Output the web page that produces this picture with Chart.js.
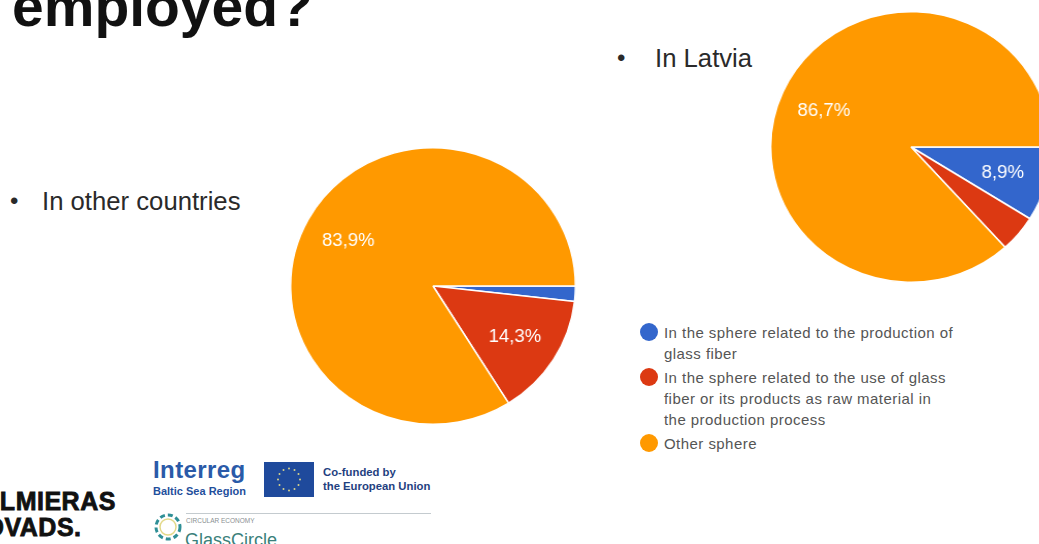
<!DOCTYPE html>
<html>
<head>
<meta charset="utf-8">
<title>employed?</title>
<script src="https://cdn.jsdelivr.net/npm/chart.js@4/dist/chart.umd.min.js"></script>
<style>
    html, body { margin: 0; padding: 0; background: #fff; }
    #slide { position: relative; width: 1039px; height: 544px; overflow: hidden; font-family: "Liberation Sans", sans-serif; }
    #slide > * { position: absolute; }
    .titulo { left: 12px; top: -27px; font-size: 57px; font-weight: bold; color: #111; line-height: 66px; white-space: nowrap; }
    .bullet { font-size: 25.7px; color: #2a2a2a; line-height: 30px; white-space: nowrap; }
    .ponto { font-size: 24px; color: #2a2a2a; line-height: 30px; }
    .pizza { transform: scaleX(1.03); }
    #legenda { left: 640px; top: 322px; width: 316px; font-size: 15px; letter-spacing: .45px; line-height: 21px; color: #555; }
    .item { position: relative; padding-left: 24px; margin-bottom: 3px; }
    .item i { position: absolute; left: 0; top: 1px; width: 18px; height: 18px; border-radius: 50%; }
    .valmieras { left: -34px; top: 488px; font-size: 25px; line-height: 26px; font-weight: 900; color: #111; letter-spacing: .5px; -webkit-text-stroke: .8px #111; }
    .interreg { left: 153px; top: 457px; font-size: 24px; line-height: 26px; font-weight: bold; color: #2a5aa8; letter-spacing: .4px; }
    .baltic { left: 153px; top: 484px; font-size: 11px; line-height: 14px; font-weight: bold; color: #1f4f9c; white-space: nowrap; }
    .cofunded { left: 323px; top: 465px; font-size: 11.3px; line-height: 14px; font-weight: bold; color: #1f3f7f; white-space: nowrap; }
    .divisor { left: 186px; top: 513px; width: 245px; height: 1px; background: #c4cbcf; }
    .economy { left: 186px; top: 517px; font-size: 6.5px; color: #8a8f92; white-space: nowrap; }
    .glass { left: 185px; top: 528px; font-size: 18px; line-height: 24px; color: #3a7f7a; white-space: nowrap; }
</style>
</head>
<body>
<div id="slide">
    <div class="titulo">employed?</div>
    <div class="ponto" style="left:10px; top:186px;">•</div>
    <div class="bullet" style="left:42px; top:186px;">In other countries</div>
    <div class="ponto" style="left:617px; top:43px;">•</div>
    <div class="bullet" style="left:655px; top:43px;">In Latvia</div>

    <canvas id="graficoOutros" class="pizza" width="278" height="278" style="left:294px; top:147px;"></canvas>
    <canvas id="graficoLetonia" class="pizza" width="272" height="272" style="left:775px; top:11px; transform:scaleX(1.037);"></canvas>

    <div id="legenda"></div>

    <div class="valmieras">VALMIERAS<br>NOVADS.</div>

    <div class="interreg">Interreg</div>
    <div class="baltic">Baltic Sea Region</div>
    <svg style="left:264px; top:462px;" width="50" height="35" viewBox="0 0 50 35">
        <rect width="50" height="35" fill="#1f4a9c"/>
        <g id="estrelas" fill="#d8d48a"></g>
    </svg>
    <div class="cofunded">Co-funded by<br>the European Union</div>

    <svg style="left:153px; top:511px;" width="30" height="33" viewBox="0 0 30 33">
        <circle cx="15" cy="16" r="12" fill="none" stroke="#2f8f96" stroke-width="3" stroke-dasharray="5 3"/>
        <circle cx="15" cy="16" r="8" fill="none" stroke="#e3d98a" stroke-width="1.5"/>
    </svg>
    <div class="divisor"></div>
    <div class="economy">CIRCULAR ECONOMY</div>
    <div class="glass">GlassCircle</div>
</div>

<script>
const categorias = [
    'In the sphere related to the production of glass fiber',
    'In the sphere related to the use of glass fiber or its products as raw material in the production process',
    'Other sphere'
];
const valoresOutros = [1.8, 14.3, 83.9];
const valoresLetonia = [8.9, 4.4, 86.7];
const rotulosOutros = [null, '14,3%', '83,9%'];
const rotulosLetonia = ['8,9%', null, '86,7%'];
const cores = ['#3366cc', '#dc3912', '#ff9900'];

// Rótulos de porcentagem dentro das fatias
const pluginRotulos = {
    id: 'rotulosFatia',
    afterDatasetsDraw(chart, args, opts) {
        const ctx = chart.ctx;
        const arcos = chart.getDatasetMeta(0).data;
        ctx.save();
        ctx.font = '18px "Liberation Sans", sans-serif';
        ctx.fillStyle = '#fff';
        ctx.textAlign = 'center';
        ctx.textBaseline = 'middle';
        arcos.forEach(function (arco, i) {
            if (!opts.textos[i]) { return; }
            const p = arco.getProps(['x', 'y', 'startAngle', 'endAngle', 'outerRadius']);
            const meio = (p.startAngle + p.endAngle) / 2;
            const raio = p.outerRadius * 0.68;
            ctx.fillText(opts.textos[i], p.x + Math.cos(meio) * raio, p.y + Math.sin(meio) * raio + 1);
        });
        ctx.restore();
    }
};

function criarPizza(id, valores, textos) {
    new Chart(document.getElementById(id).getContext('2d'), {
        type: 'pie',
        data: {
            labels: categorias,
            datasets: [{
                data: valores,
                backgroundColor: cores,
                borderColor: '#fff',
                borderWidth: 1.5,
                hoverOffset: 0
            }]
        },
        options: {
            responsive: false,
            animation: false,
            rotation: 90,
            layout: { padding: 0 },
            plugins: {
                legend: { display: false },
                tooltip: { enabled: false },
                rotulosFatia: { textos: textos }
            }
        },
        plugins: [pluginRotulos]
    });
}

criarPizza('graficoOutros', valoresOutros, rotulosOutros);
criarPizza('graficoLetonia', valoresLetonia, rotulosLetonia);

// Legenda compartilhada pelos dois gráficos
const legenda = document.getElementById('legenda');
categorias.forEach(function (nome, i) {
    const item = document.createElement('div');
    item.className = 'item';
    const bolinha = document.createElement('i');
    bolinha.style.background = cores[i];
    item.appendChild(bolinha);
    item.appendChild(document.createTextNode(nome));
    legenda.appendChild(item);
});

// Estrelas da bandeira
const estrelas = document.getElementById('estrelas');
for (let i = 0; i < 12; i++) {
    const a = i * Math.PI / 6;
    const c = document.createElementNS('http://www.w3.org/2000/svg', 'circle');
    c.setAttribute('cx', 25 + Math.cos(a) * 11);
    c.setAttribute('cy', 17.5 + Math.sin(a) * 11);
    c.setAttribute('r', 1);
    estrelas.appendChild(c);
}
</script>
</body>
</html>
